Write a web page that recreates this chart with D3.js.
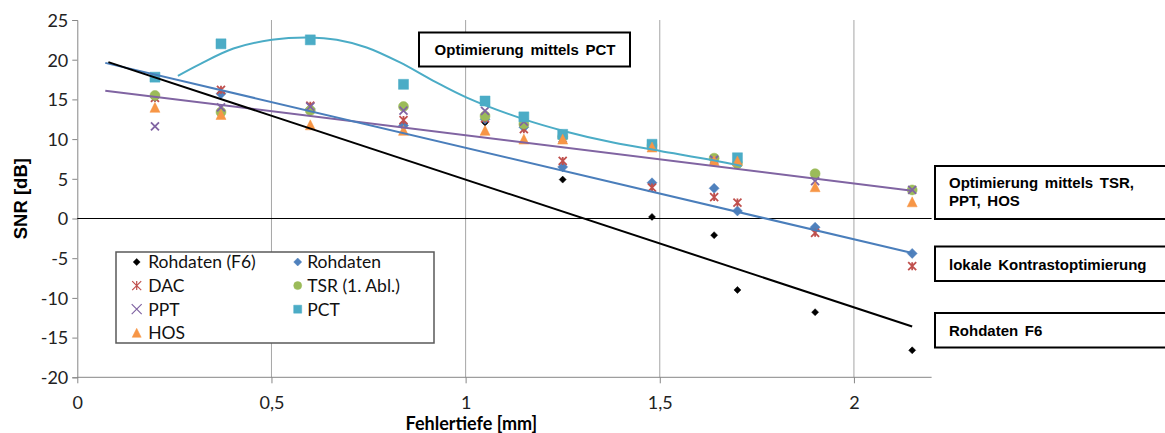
<!DOCTYPE html>
<html>
	<head>
		<title>SNR vs Fehlertiefe</title>

		<!--libs-->
		<script src="https://cdn.jsdelivr.net/npm/d3@7"></script>

		<!--css-->
		<style>
			body {
				margin: 0;
				background: #fff;
			}
			.tick-label {
				font-family: Lato, "Open Sans", sans-serif;
				font-size: 18px;
				fill: #222;
			}
			.legend-label {
				font-family: Lato, "Open Sans", sans-serif;
				font-size: 17.5px;
				fill: #111;
			}
			.note {
				font-family: "Liberation Sans", Arial, sans-serif;
				font-weight: bold;
				font-size: 15px;
				fill: #000;
				word-spacing: 2.5px;
			}
		</style>
	</head>
	<body>
		<div class="chart"></div>

		<script>
			// Fehlertiefe in mm
			var depths = [0.2, 0.37, 0.6, 0.84, 1.05, 1.15, 1.25, 1.48, 1.64, 1.70, 1.90, 2.15];

			// SNR in dB per method (null = kein Wert)
			var rohF6    = [15.4, 15.8, 13.9, 11.8, 12.1, 11.6, 4.9, 0.2, -2.1, -9.0, -11.8, -16.6];
			var rohdaten = [15.3, 15.7, 13.8, 11.7, 12.5, 11.5, 6.5, 4.5, 3.8, 0.95, -1.1, -4.4];
			var dac      = [15.2, 16.2, 14.2, 12.4, 12.6, 11.25, 7.25, 3.9, 2.7, 2.0, -1.8, -6.0];
			var tsr      = [15.5, 13.4, 13.6, 14.1, 12.9, 11.9, 10.3, 9.2, 7.6, 6.9, 5.65, 3.6];
			var ppt      = [11.6, 14.0, 14.1, 13.6, 13.55, 12.2, 10.1, 9.2, 7.4, 7.3, 4.7, 3.6];
			var pct      = [17.8, 22.0, 22.5, 16.9, 14.8, 12.8, 10.6, 9.35, null, 7.65, null, null];
			var hos      = [14.0, 13.1, 11.8, 11.1, 11.1, 10.0, 10.0, 9.0, 7.3, 7.25, 4.0, 2.1];

			// trendlines
			var trendF6X   = [0.08, 2.15],  trendF6Y   = [19.7, -13.6];
			var trendRohX  = [0.072, 2.15], trendRohY  = [19.6, -4.35];
			var trendTsrX  = [0.072, 2.15], trendTsrY  = [16.1, 3.5];
			var trendPctX  = [0.259, 0.316, 0.402, 0.501, 0.599, 0.668, 0.745, 0.831, 0.917, 1.003, 1.149, 1.252, 1.380, 1.501, 1.638, 1.711];
			var trendPctY  = [17.97, 19.45, 21.41, 22.51, 22.80, 22.51, 21.54, 19.65, 17.34, 15.23, 12.51, 11.03, 9.56, 8.51, 7.34, 6.62];

			// axes
			var xTicks = [0, 0.5, 1, 1.5, 2];
			var yTicks = [-20, -15, -10, -5, 0, 5, 10, 15, 20, 25];

			var width = 1165,
				height = 433;

			var x = d3.scaleLinear().domain([0, 2.2]).range([77.3, 931.6]);
			var y = d3.scaleLinear().domain([-20, 25]).range([377.3, 20]);

			var svg = d3.select(".chart")
				.append("svg")
				.attr("width", width)
				.attr("height", height);

			var axisColor = "#868686";

			// vertical gridlines
			svg.append("g").selectAll("line")
				.data(xTicks.filter(function(d) { return d > 0; }))
				.enter().append("line")
				.attr("x1", function(d) { return x(d); })
				.attr("x2", function(d) { return x(d); })
				.attr("y1", y(25))
				.attr("y2", y(-20))
				.attr("stroke", "#a6a6a6")
				.attr("stroke-width", 1);

			// y axis
			var yAxis = d3.axisLeft(y)
				.tickValues(yTicks)
				.tickSize(5)
				.tickPadding(4)
				.tickFormat(function(d) { return d; });

			var yg = svg.append("g")
				.attr("transform", "translate(" + x(0) + ",0)")
				.call(yAxis);
			yg.select(".domain").attr("stroke", axisColor);
			yg.selectAll(".tick line").attr("stroke", axisColor);
			yg.selectAll(".tick text").attr("class", "tick-label").attr("dy", "0.35em");

			// x axis at the bottom
			var xAxis = d3.axisBottom(x)
				.tickValues(xTicks)
				.tickSize(6)
				.tickPadding(12)
				.tickFormat(function(d) { return String(d).replace(".", ","); });

			var xg = svg.append("g")
				.attr("transform", "translate(0," + y(-20) + ")")
				.call(xAxis);
			xg.select(".domain").attr("d", "M" + x(0) + ",0H" + x(2.2)).attr("stroke", axisColor);
			xg.selectAll(".tick line").attr("stroke", axisColor);
			xg.selectAll(".tick text").attr("class", "tick-label").attr("dy", "0.78em");

			// zero line
			svg.append("line")
				.attr("x1", x(0)).attr("x2", x(2.2))
				.attr("y1", y(0)).attr("y2", y(0))
				.attr("stroke", "#000")
				.attr("stroke-width", 1);

			// axis titles
			svg.append("text")
				.attr("x", x(1.015))
				.attr("y", 430)
				.attr("text-anchor", "middle")
				.style("font-family", "Lato, sans-serif")
				.style("font-weight", "bold")
				.style("font-size", "18px")
				.text("Fehlertiefe [mm]");

			svg.append("text")
				.attr("transform", "translate(26.5," + ((y(25) + y(-20)) / 2) + ") rotate(-90)")
				.attr("text-anchor", "middle")
				.style("font-family", "'Liberation Sans', Arial, sans-serif")
				.style("font-weight", "bold")
				.style("font-size", "18.5px")
				.text("SNR [dB]");

			// marker shapes
			function marker(type, s) {
				var h = s / 2;
				switch (type) {
					case "diamond":
						return "M0," + (-h) + "L" + h + ",0L0," + h + "L" + (-h) + ",0Z";
					case "square":
						return "M" + (-h) + "," + (-h) + "h" + s + "v" + s + "h" + (-s) + "Z";
					case "circle":
						return "M" + h + ",0A" + h + "," + h + " 0 1,1 " + (-h) + ",0A" + h + "," + h + " 0 1,1 " + h + ",0Z";
					case "triangle":
						return "M0," + (-h) + "L" + h + "," + h + "L" + (-h) + "," + h + "Z";
					case "x":
						return "M" + (-h) + "," + (-h) + "L" + h + "," + h + "M" + (-h) + "," + h + "L" + h + "," + (-h);
					case "star":
						return "M" + (-h) + "," + (-h) + "L" + h + "," + h + "M" + (-h) + "," + h + "L" + h + "," + (-h) +
							"M0," + (-h) + "V" + h;
				}
			}

			var series = [
				{ label: "Rohdaten (F6)", values: rohF6,    color: "#000000", shape: "diamond",  size: 7,  legendSize: 7 },
				{ label: "Rohdaten",      values: rohdaten, color: "#4f81bd", shape: "diamond",  size: 10, legendSize: 8 },
				{ label: "DAC",           values: dac,      color: "#c0504d", shape: "star",     size: 8,  legendSize: 9 },
				{ label: "TSR (1. Abl.)", values: tsr,      color: "#9bbb59", shape: "circle",   size: 10, legendSize: 8 },
				{ label: "PPT",           values: ppt,      color: "#8064a2", shape: "x",        size: 8,  legendSize: 10 },
				{ label: "PCT",           values: pct,      color: "#4bacc6", shape: "square",   size: 10, legendSize: 8 },
				{ label: "HOS",           values: hos,      color: "#f79646", shape: "triangle", size: 10, legendSize: 9 }
			];

			function isStroke(shape) {
				return shape === "x" || shape === "star";
			}

			// points
			series.forEach(function(s) {
				var pts = depths.map(function(d, i) { return { x: d, y: s.values[i] }; })
					.filter(function(p) { return p.y !== null; });

				svg.append("g").selectAll("path")
					.data(pts)
					.enter().append("path")
					.attr("transform", function(p) { return "translate(" + x(p.x) + "," + y(p.y) + ")"; })
					.attr("d", marker(s.shape, s.size))
					.attr("fill", isStroke(s.shape) ? "none" : s.color)
					.attr("stroke", s.color)
					.attr("stroke-width", isStroke(s.shape) ? 1.8 : 0.5);
			});

			// trendlines
			var line = d3.line()
				.x(function(d) { return x(d[0]); })
				.y(function(d) { return y(d[1]); });

			var trends = [
				{ xs: trendPctX, ys: trendPctY, color: "#4bacc6", curve: d3.curveCatmullRom },
				{ xs: trendTsrX, ys: trendTsrY, color: "#8064a2", curve: d3.curveLinear },
				{ xs: trendRohX, ys: trendRohY, color: "#4a7ebb", curve: d3.curveLinear },
				{ xs: trendF6X,  ys: trendF6Y,  color: "#000000", curve: d3.curveLinear }
			];

			trends.forEach(function(t) {
				svg.append("path")
					.datum(d3.zip(t.xs, t.ys))
					.attr("d", line.curve(t.curve))
					.attr("fill", "none")
					.attr("stroke", t.color)
					.attr("stroke-width", 2);
			});

			// legend, two columns filled row by row
			var legend = svg.append("g").attr("transform", "translate(116,252)");
			legend.append("rect")
				.attr("width", 318)
				.attr("height", 91)
				.attr("fill", "#fff")
				.attr("stroke", "#595959")
				.attr("stroke-width", 1.5);

			var items = legend.selectAll("g.item")
				.data(series)
				.enter().append("g")
				.attr("class", "item")
				.attr("transform", function(d, i) {
					var col = i % 2,
						row = Math.floor(i / 2);
					return "translate(" + (col ? 181.7 : 20.7) + "," + (10 + row * 23.6) + ")";
				});

			items.append("path")
				.attr("d", function(d) { return marker(d.shape, d.legendSize); })
				.attr("fill", function(d) { return isStroke(d.shape) ? "none" : d.color; })
				.attr("stroke", function(d) { return d.color; })
				.attr("stroke-width", function(d) { return isStroke(d.shape) ? 1.2 : 0.5; });

			items.append("text")
				.attr("class", "legend-label")
				.attr("x", function(d, i) { return i % 2 ? 9.5 : 11.5; })
				.attr("dy", "0.36em")
				.text(function(d) { return d.label; });

			// annotation boxes
			var notes = [
				{ x: 419, y: 32.5, w: 211, h: 34, tx: 525, anchor: "middle", lines: ["Optimierung mittels PCT"], base: 55 },
				{ x: 935, y: 166, w: 240, h: 53, tx: 949, anchor: "start", lines: ["Optimierung mittels TSR,", "PPT, HOS"], base: 188 },
				{ x: 935, y: 246.5, w: 240, h: 34.5, tx: 949, anchor: "start", lines: ["lokale Kontrastoptimierung"], base: 269.5 },
				{ x: 935, y: 313, w: 240, h: 34.5, tx: 949, anchor: "start", lines: ["Rohdaten F6"], base: 335.5 }
			];

			notes.forEach(function(n) {
				svg.append("rect")
					.attr("x", n.x).attr("y", n.y)
					.attr("width", n.w).attr("height", n.h)
					.attr("fill", "#fff")
					.attr("stroke", "#000")
					.attr("stroke-width", 2);
				n.lines.forEach(function(t, i) {
					svg.append("text")
						.attr("class", "note")
						.attr("x", n.tx)
						.attr("y", n.base + i * 17.5)
						.attr("text-anchor", n.anchor)
						.text(t);
				});
			});
		</script>
	</body>
</html>
